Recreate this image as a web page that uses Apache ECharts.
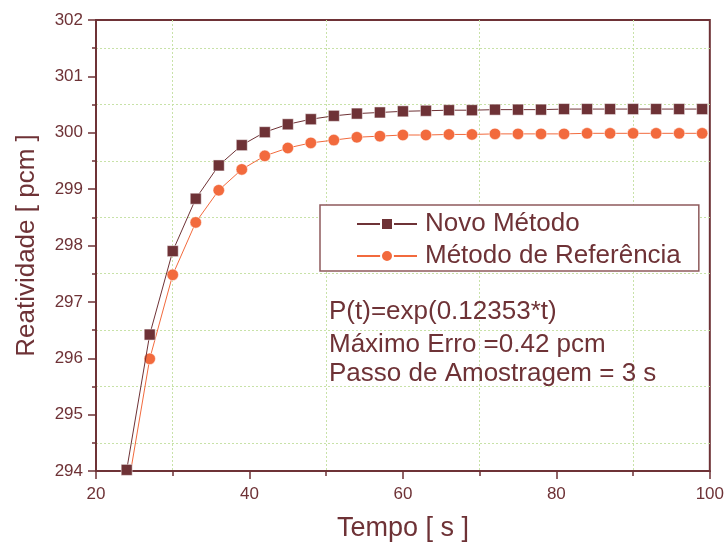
<!DOCTYPE html>
<html>
<head>
<meta charset="utf-8">
<script src="https://cdn.jsdelivr.net/npm/echarts@6/dist/echarts.min.js"></script>
<style>html,body{margin:0;padding:0;background:#fff;}#c{width:727px;height:547px;}</style>
</head>
<body>
<div id="c"></div>
<script>
var tempo = [24,27,30,33,36,39,42,45,48,51,54,57,60,63,66,69,72,75,78,81,84,87,90,93,96,99];
var novoMetodo = [294.02,296.42,297.90,298.83,299.42,299.78,300.01,300.15,300.24,300.30,300.34,300.36,300.38,300.39,300.40,300.40,300.41,300.41,300.41,300.42,300.42,300.42,300.42,300.42,300.42,300.42];
var metodoRef = [293.58,295.99,297.48,298.41,298.98,299.35,299.59,299.73,299.82,299.87,299.92,299.94,299.96,299.96,299.97,299.97,299.98,299.98,299.98,299.98,299.99,299.99,299.99,299.99,299.99,299.99];
var seriesNames = ['Novo Método','Método de Referência'];
var annotations = ['P(t)=exp(0.12353*t)','Máximo Erro =0.42 pcm','Passo de Amostragem = 3 s'];
var xTitle = 'Tempo [ s ]';
var yTitle = 'Reatividade [ pcm ]';

var maroon = '#6E3236';
var orange = '#F26A3D';
var green = '#C8E2A8';
var font = 'Liberation Sans, Arial, sans-serif';
var annotY = [312, 345, 374];

function pairs(v){ return tempo.map(function(t,i){ return [t, v[i]]; }); }

var chart = echarts.init(document.getElementById('c'));
chart.setOption({
  animation:false,
  backgroundColor:'#fff',
  grid:{left:96,right:17,top:20,bottom:72,show:true,borderColor:maroon,borderWidth:2,backgroundColor:'transparent'},
  xAxis:{
    type:'value',min:20,max:100,interval:20,
    name:xTitle,nameLocation:'middle',nameGap:44,
    nameTextStyle:{color:maroon,fontSize:27,fontFamily:font},
    axisLine:{show:true,lineStyle:{color:maroon,width:2}},
    axisTick:{show:true,length:8,lineStyle:{color:maroon,width:1.5}},
    minorTick:{show:true,splitNumber:2,length:5,lineStyle:{color:maroon,width:1.5}},
    axisLabel:{color:maroon,fontSize:17,fontFamily:font,margin:15},
    splitLine:{show:false},
    minorSplitLine:{show:true,lineStyle:{color:green,type:[2,2],width:1}}
  },
  yAxis:{
    type:'value',min:294,max:302,interval:1,
    name:yTitle,nameLocation:'middle',nameGap:56,nameRotate:90,
    nameTextStyle:{color:maroon,fontSize:26,fontFamily:font},
    axisLine:{show:true,lineStyle:{color:maroon,width:2}},
    axisTick:{show:true,length:8,lineStyle:{color:maroon,width:1.5}},
    minorTick:{show:true,splitNumber:2,length:4,lineStyle:{color:maroon,width:1.5}},
    axisLabel:{color:maroon,fontSize:17,fontFamily:font,margin:13},
    splitLine:{show:false},
    minorSplitLine:{show:true,lineStyle:{color:green,type:[2,2],width:1}}
  },
  legend:{
    orient:'vertical',left:320,top:205,
    data:[seriesNames[0],seriesNames[1]],
    backgroundColor:'#fff',borderColor:'#8E5A5C',borderWidth:1.5,
    padding:[6,18,2,36],itemGap:6,itemWidth:60,itemHeight:15,
    textStyle:{color:maroon,fontSize:26,fontFamily:font,padding:[0,0,0,3]}
  },
  graphic:annotations.map(function(s,i){
    return {type:'text',x:329,y:annotY[i],z:100,
      style:{text:s,fill:maroon,fontSize:26,fontFamily:font,textVerticalAlign:'middle'}};
  }),
  series:[
    {name:seriesNames[1],type:'line',data:pairs(metodoRef),symbol:'circle',symbolSize:11.5,
     lineStyle:{color:orange,width:1},itemStyle:{color:orange,borderColor:'#fff',borderWidth:0.5},clip:true,z:2},
    {name:seriesNames[0],type:'line',data:pairs(novoMetodo),symbol:'rect',symbolSize:11,
     lineStyle:{color:maroon,width:1},itemStyle:{color:maroon,borderColor:'#fff',borderWidth:0.5},clip:true,z:3}
  ]
});
</script>
</body>
</html>
